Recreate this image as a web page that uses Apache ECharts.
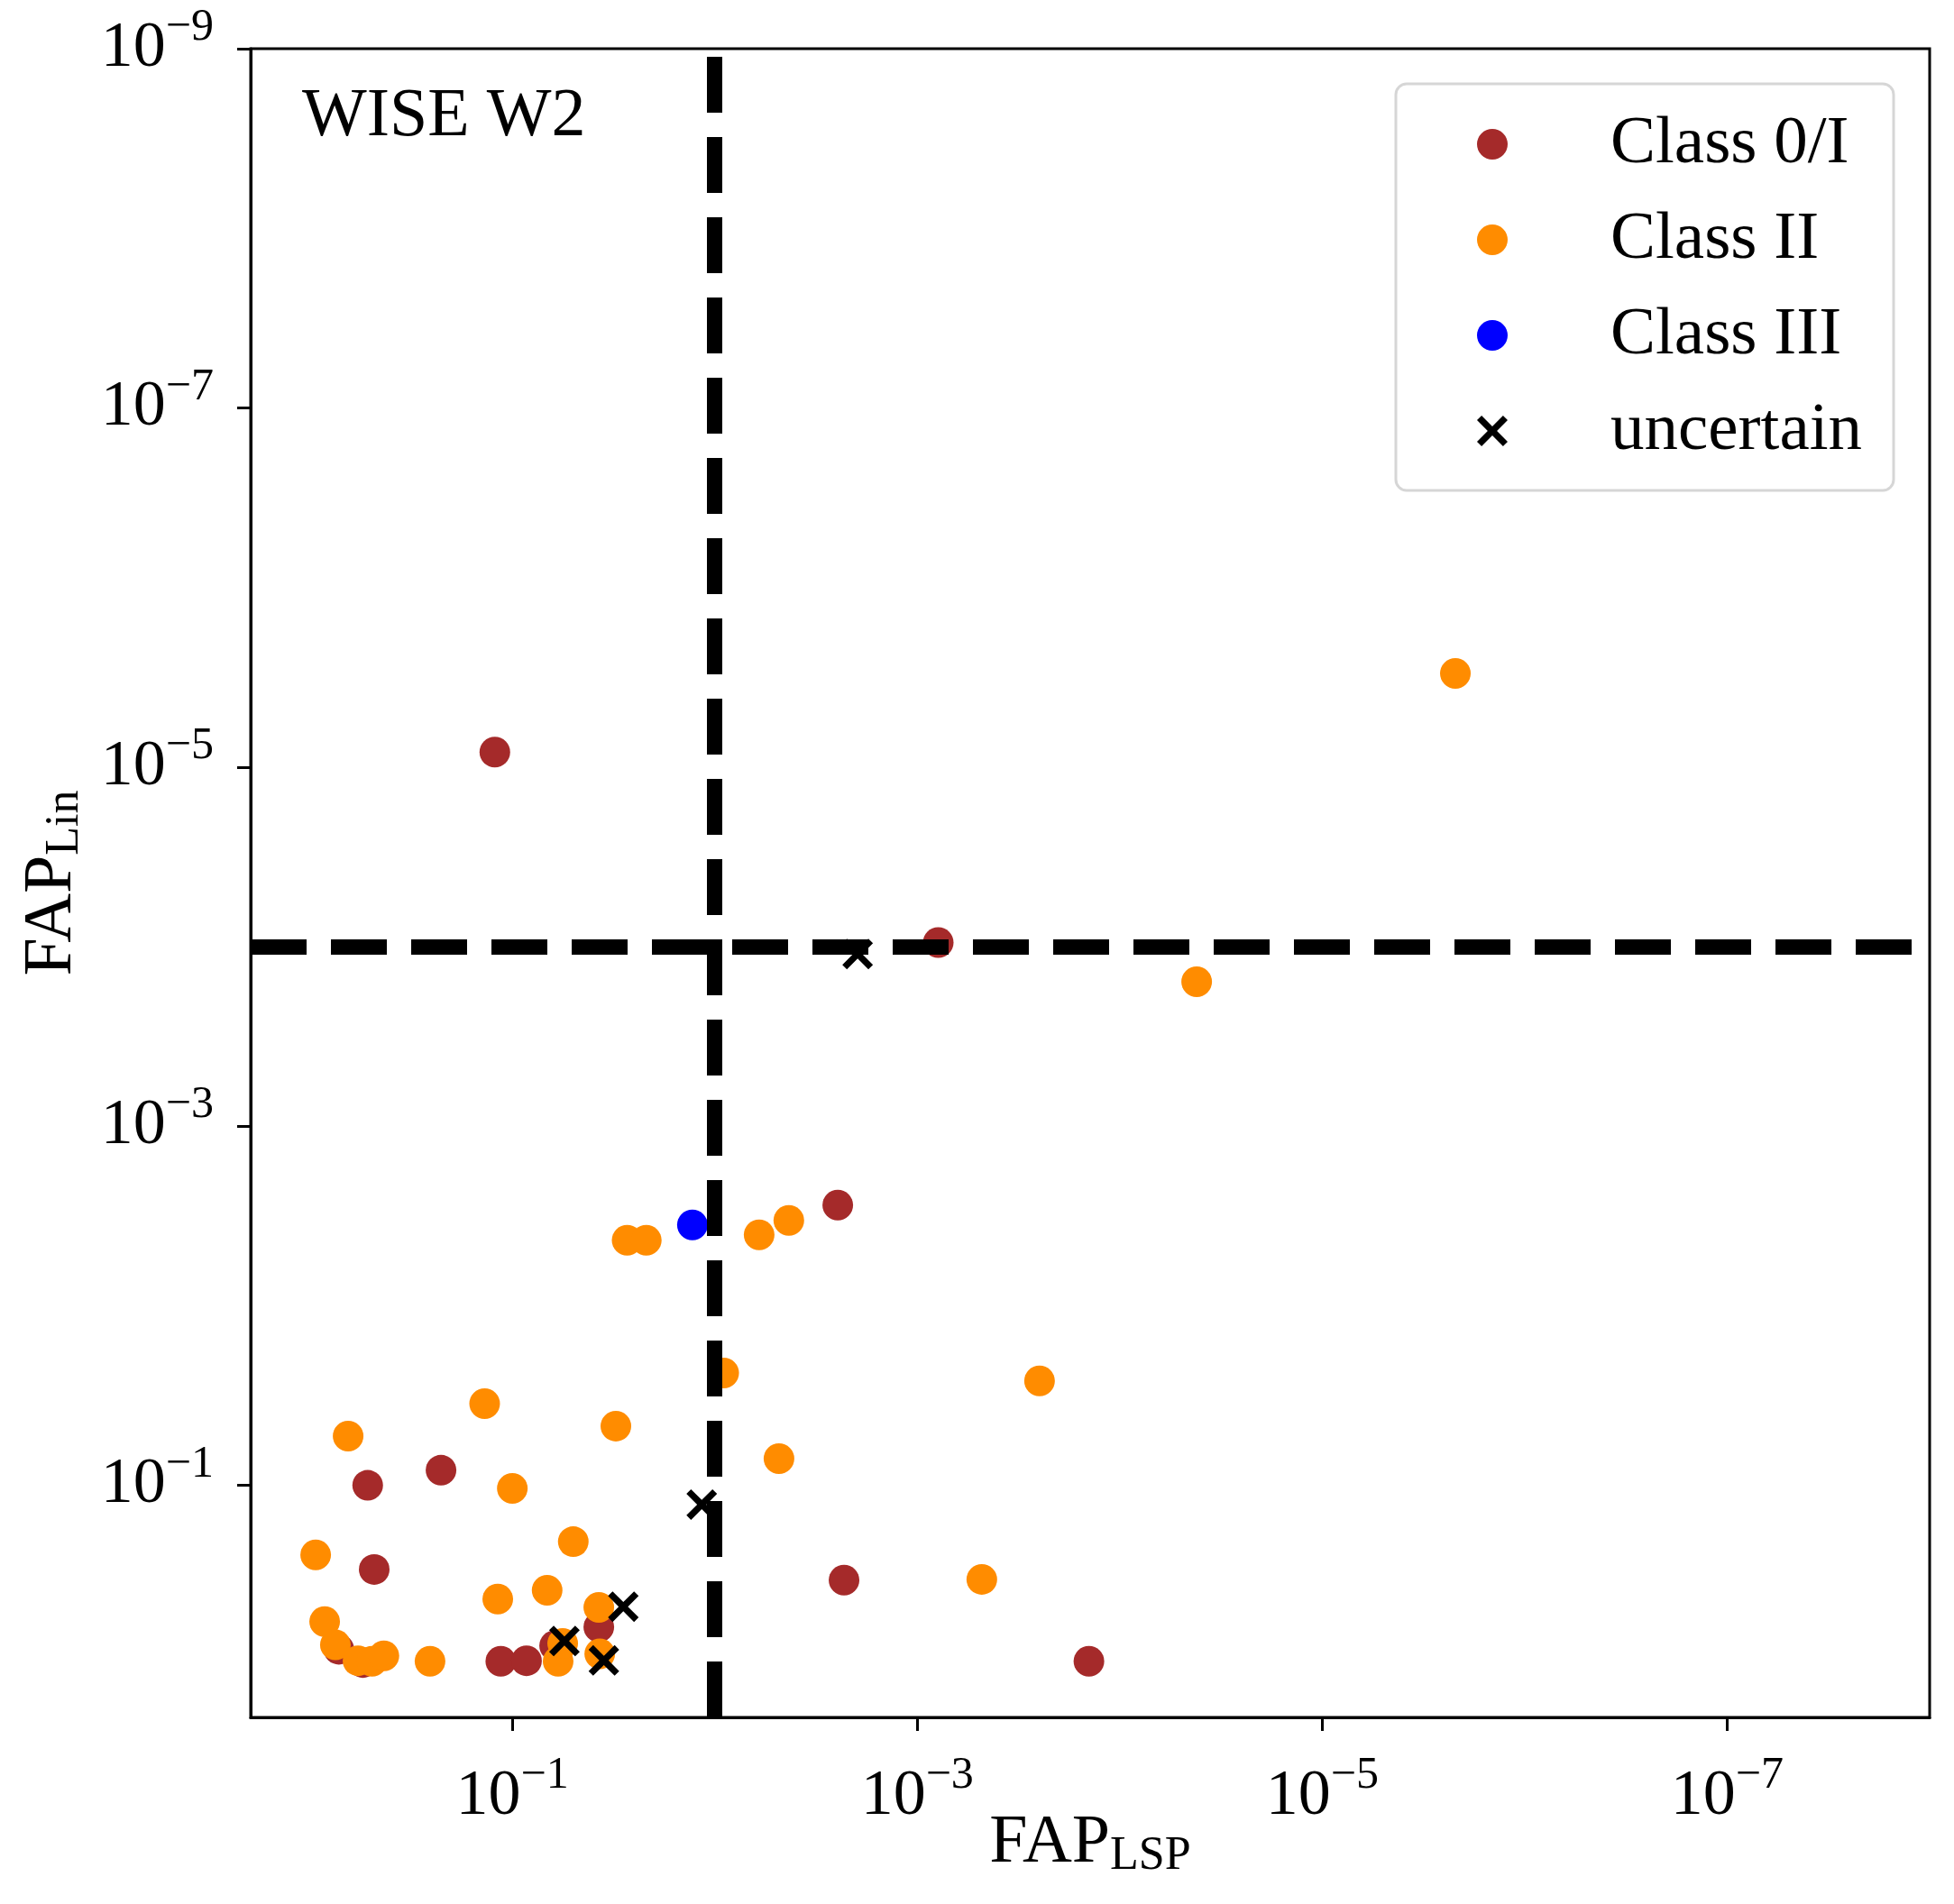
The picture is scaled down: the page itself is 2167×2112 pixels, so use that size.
<!DOCTYPE html>
<html>
<head>
<meta charset="utf-8">
<script src="https://cdn.jsdelivr.net/npm/echarts@6/dist/echarts.min.js"></script>
<style>
html, body { margin: 0; padding: 0; background: #fff; }
#main { width: 2167px; height: 2112px; }
</style>
</head>
<body>
<div id="main"></div>
<script>
// [FAP_LSP, FAP_Lin] pairs
var class0I = [
    [0.122, 8.26e-6], [7.88e-4, 9.5e-5], [2.47e-3, 2.75e-3], [0.518, 0.100],
    [0.225, 0.0824], [0.481, 0.294], [2.30e-3, 0.337], [1.42e-4, 0.955],
    [0.114, 0.955], [0.0851, 0.948], [0.0374, 0.615], [0.0618, 0.782],
    [0.719, 0.818], [0.547, 0.97]
];
var class2 = [
    [2.20e-6, 3.01e-6], [4.17e-5, 1.57e-4], [0.0271, 4.32e-3], [0.0218, 4.32e-3],
    [6.04e-3, 4.03e-3], [4.31e-3, 3.35e-3], [9.04e-3, 0.0237], [2.49e-4, 0.0262],
    [4.82e-3, 0.0710], [4.80e-4, 0.334], [0.137, 0.0351], [0.647, 0.0532],
    [0.0308, 0.0468], [0.100, 0.104], [0.0500, 0.206], [0.936, 0.244],
    [0.118, 0.430], [0.0673, 0.384], [0.0374, 0.478], [0.845, 0.574],
    [0.748, 0.773], [0.578, 0.948], [0.493, 0.955], [0.431, 0.891],
    [0.255, 0.955], [0.0594, 0.955], [0.0564, 0.759], [0.0370, 0.867]
];
var class3 = [
    [0.0129, 3.55e-3]
];
var uncertain = [
    [1.97e-3, 1.10e-4], [0.0116, 0.128], [0.0553, 0.736], [0.0283, 0.474], [0.0353, 0.944]
];

var xTicks = [1e-1, 1e-3, 1e-5, 1e-7];
var yTicks = [1e-9, 1e-7, 1e-5, 1e-3, 1e-1];
var xRange = [1e-8, 1.96];
var yRange = [1e-9, 1.96];
var lspLimit = 1e-2;
var linLimit = 1e-4;

var font = 'Liberation Serif';
var crossPath = 'path://M0,1.5 L1.5,0 L5,3.5 L8.5,0 L10,1.5 L6.5,5 L10,8.5 L8.5,10 L5,6.5 L1.5,10 L0,8.5 L3.5,5 Z';

function powLabel(v) {
    var n = Math.round(Math.log10(v));
    return '{b|10}{s|' + (n < 0 ? '\u2212' : '') + Math.abs(n) + '}';
}
var tickRich = {
    b: { fontFamily: font, fontSize: 72, lineHeight: 96, color: '#000' },
    s: { fontFamily: font, fontSize: 50, lineHeight: 70, verticalAlign: 'top', color: '#000' }
};
var nameRich = {
    a: { fontFamily: font, fontSize: 76, lineHeight: 80, color: '#000' },
    b: { fontFamily: font, fontSize: 52, lineHeight: 44, verticalAlign: 'bottom', color: '#000' }
};

var myChart = echarts.init(document.getElementById('main'));
var option = {
    animation: false,
    backgroundColor: '#fff',
    title: {
        text: 'WISE W2',
        left: 335,
        top: 92,
        padding: 0,
        textStyle: { fontFamily: font, fontSize: 76, fontWeight: 'normal', color: '#000' }
    },
    legend: {
        orient: 'vertical',
        left: 1548,
        top: 93,
        padding: [27, 35, 26, 90],
        itemWidth: 34,
        itemHeight: 34,
        itemGap: 26,
        borderColor: '#d6d6d6',
        borderWidth: 3,
        borderRadius: 12,
        backgroundColor: '#fff',
        textStyle: { fontFamily: font, fontSize: 75, lineHeight: 80, color: '#000', padding: [0, 0, 0, 109] },
        data: ['Class 0/I', 'Class II', 'Class III', 'uncertain']
    },
    grid: {
        left: 278, right: 27, top: 54, bottom: 207,
        outerBoundsMode: 'none',
        containLabel: false,
        show: true, borderColor: '#000', borderWidth: 3
    },
    xAxis: {
        type: 'log',
        logBase: 10,
        min: xRange[0],
        max: xRange[1],
        inverse: true,
        name: '{a|FAP}{b|LSP}',
        nameLocation: 'middle',
        nameGap: 100,
        nameMoveOverlap: false,
        nameTextStyle: { rich: nameRich },
        axisLine: { onZero: false, lineStyle: { color: '#000', width: 3 } },
        axisTick: { show: true, inside: false, length: 15, lineStyle: { color: '#000', width: 3 }, customValues: xTicks },
        axisLabel: { customValues: xTicks, formatter: powLabel, margin: 40, rich: tickRich },
        splitLine: { show: false },
        minorTick: { show: false }
    },
    yAxis: {
        type: 'log',
        logBase: 10,
        min: yRange[0],
        max: yRange[1],
        inverse: true,
        name: '{a|FAP}{b|Lin}',
        nameLocation: 'middle',
        nameRotate: 90,
        nameGap: 180,
        nameMoveOverlap: false,
        nameTextStyle: { rich: nameRich },
        axisLine: { onZero: false, lineStyle: { color: '#000', width: 3 } },
        axisTick: { show: true, inside: false, length: 15, lineStyle: { color: '#000', width: 3 }, customValues: yTicks },
        axisLabel: { customValues: yTicks, formatter: powLabel, margin: 41, rich: tickRich },
        splitLine: { show: false },
        minorTick: { show: false }
    },
    series: [
        {
            name: 'Class 0/I',
            type: 'scatter',
            symbolSize: 34,
            itemStyle: { color: '#a52a2a', opacity: 1 },
            data: class0I
        },
        {
            name: 'Class II',
            type: 'scatter',
            symbolSize: 34,
            itemStyle: { color: '#ff8c00', opacity: 1 },
            data: class2
        },
        {
            name: 'Class III',
            type: 'scatter',
            symbolSize: 34,
            itemStyle: { color: '#0000ff', opacity: 1 },
            data: class3
        },
        {
            name: 'uncertain',
            type: 'scatter',
            symbol: crossPath,
            symbolSize: 34,
            itemStyle: { color: '#000', opacity: 1 },
            data: uncertain,
            markLine: {
                silent: true,
                symbol: 'none',
                label: { show: false },
                lineStyle: { color: '#000', width: 17, type: [62, 27] },
                data: [
                    [{ coord: [lspLimit, yRange[1]] }, { coord: [lspLimit, yRange[0]] }],
                    [{ coord: [xRange[1], linLimit] }, { coord: [xRange[0], linLimit] }]
                ]
            }
        }
    ]
};
myChart.setOption(option);
</script>
</body>
</html>
